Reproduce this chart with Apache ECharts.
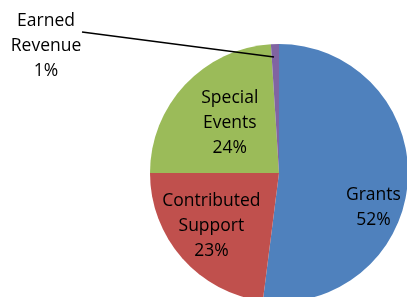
<!DOCTYPE html>
<html><head><meta charset="utf-8">
<script src="https://cdn.jsdelivr.net/npm/echarts@6/dist/echarts.min.js"></script>
<style>html,body{margin:0;padding:0;background:#fff}#c{width:407px;height:297px}</style>
</head><body><div id="c"></div>
<script>
const categories = ['Grants', 'Contributed\nSupport', 'Special\nEvents', 'Earned\nRevenue'];
const values = [52, 23, 24, 1];
const colors = ['#4F81BD', '#C0504D', '#9BBB59', '#8064A2'];

const chart = echarts.init(document.getElementById('c'), null, {renderer: 'canvas'});
const cx = 279, cy = 173, R = 129;
const offsets = [[27, 30], [-17, 8], [0, -4]];
const labelStyle = {
  formatter: '{b}\n{d}%',
  fontFamily: 'Open Sans',
  fontSize: 17.5,
  lineHeight: 25,
  color: '#000',
  align: 'center'
};
const base = {
  type: 'pie',
  center: [cx, cy],
  radius: [0, R],
  startAngle: 90,
  clockwise: true,
  silent: true
};
chart.setOption({
  animation: false,
  backgroundColor: '#fff',
  series: [
    Object.assign({}, base, {
      z: 2,
      data: categories.map((n, i) => ({
        name: n, value: values[i],
        itemStyle: {color: colors[i]},
        label: {show: i < 3, position: 'inside'},
        labelLine: {show: false}
      })),
      label: labelStyle,
      labelLayout: function (p) {
        if (p.dataIndex < 3) return {dx: offsets[p.dataIndex][0], dy: offsets[p.dataIndex][1]};
      }
    }),
    Object.assign({}, base, {
      z: 5,
      data: categories.map((n, i) => ({
        name: n, value: values[i],
        itemStyle: {color: 'rgba(0,0,0,0)'},
        label: {show: i === 3, position: 'outside'},
        labelLine: {show: i === 3}
      })),
      label: labelStyle,
      labelLine: {lineStyle: {color: '#000', width: 1.5}, length: 10, length2: 10},
      labelLayout: function (p) {
        if (p.dataIndex === 3) {
          return {
            x: 46, y: 46, align: 'center', verticalAlign: 'middle',
            labelLinePoints: [[cx - 5, cy - 116], [82, 32], [82, 32]]
          };
        }
      }
    })
  ]
});
</script></body></html>
